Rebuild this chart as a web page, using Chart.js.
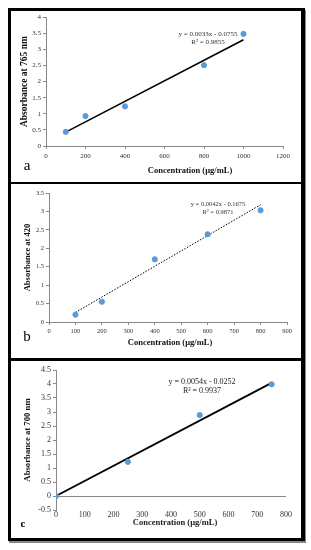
<!DOCTYPE html>
<html>
<head>
<meta charset="utf-8">
<script src="https://cdn.jsdelivr.net/npm/chart.js@4/dist/chart.umd.min.js"></script>
<style>
  body { margin: 0; background: #fff; }
  #page { position: relative; width: 311px; height: 550px; overflow: hidden; }
  #frame { position: absolute; left: 8px; top: 8px; width: 297px; height: 533px; box-sizing: border-box;
           border: 3px solid #000; border-right-width: 4px; box-shadow: 1px 2px 0 #888; }
  .sep { position: absolute; left: 8px; width: 297px; background: #000; }
  canvas { position: absolute; }
</style>
</head>
<body>
<div id="page">
  <div id="frame"></div>
  <div class="sep" style="top:182px;height:2px"></div>
  <div class="sep" style="top:358px;height:3px"></div>
  <canvas id="chartA" style="left:11px;top:11px" width="291" height="171"></canvas>
  <canvas id="chartB" style="left:11px;top:185px" width="291" height="173"></canvas>
  <canvas id="chartC" style="left:11px;top:361px" width="291" height="178"></canvas>
</div>
<script>
// panel a - absorbance at 765 nm
var concA = [100, 200, 400, 800, 1000];
var absA = [0.44, 0.93, 1.23, 2.51, 3.48];
var trendXA = [100, 1000];
var trendYA = [0.43, 3.3];

// panel b - absorbance at 420
var concB = [100, 200, 400, 600, 800];
var absB = [0.2, 0.55, 1.70, 2.38, 3.03];
var trendXB = [100, 800];
var trendYB = [0.26, 3.18];

// panel c - absorbance at 700 nm
var concC = [0, 250, 500, 750];
var absC = [0, 1.22, 2.89, 3.99];
var trendXC = [0, 750];
var trendYC = [0, 4.04];

var SERIF = "'Liberation Serif', 'Times New Roman', serif";
var AXIS = '#888';
var DOT = '#5B9BD5';

function pts(xs, ys) {
  var out = [];
  for (var i = 0; i < xs.length; i++) out.push({x: xs[i], y: ys[i]});
  return out;
}

// plain labels like excel: 4 not 4.0, 1200 not 1,200
function plain(v) {
  return String(Math.round(v * 100) / 100);
}

// draws free text (equation, panel letter, x axis title) on the canvas
var notesPlugin = {
  id: 'notes',
  afterDraw: function(chart, args, opts) {
    var ctx = chart.ctx;
    ctx.save();
    ctx.textAlign = 'center';
    ctx.textBaseline = 'middle';
    opts.items.forEach(function(t) {
      ctx.font = t.font;
      ctx.fillStyle = t.color || '#000';
      ctx.fillText(t.text, t.x, t.y);
    });
    ctx.restore();
  }
};

function makeChart(id, p) {
  var W = p.w, H = p.h;
  var xScale = {
    type: 'linear', min: p.xMin, max: p.xMax,
    ticks: { stepSize: p.xStep, autoSkip: false, maxRotation: 0, padding: p.xTickPad, callback: plain,
             color: '#333', font: { family: SERIF, size: p.tickSize } },
    grid: { display: p.xGrid, drawOnChartArea: false, drawTicks: p.xGrid, tickLength: 3, color: AXIS },
    border: { display: p.xGrid, color: AXIS },
    afterFit: function(s) { s.height = H - p.area.bottom; }
  };
  var yScale = {
    type: 'linear', min: p.yMin, max: p.yMax,
    ticks: { stepSize: 0.5, autoSkip: false, padding: 2, callback: plain,
             color: '#333', font: { family: SERIF, size: p.tickSize } },
    grid: { drawOnChartArea: p.zeroLine, drawTicks: true, tickLength: 3, tickColor: AXIS,
            color: function(c) { return (p.zeroLine && c.tick && c.tick.value === 0) ? AXIS : (p.zeroLine ? 'rgba(0,0,0,0)' : AXIS); } },
    border: { color: AXIS },
    title: { display: true, text: p.yTitle, color: '#111', padding: { top: p.yTitlePad },
             font: { family: SERIF, size: p.yTitleSize, weight: 'bold' } },
    afterFit: function(s) { s.width = p.area.left; }
  };
  return new Chart(document.getElementById(id), {
    type: 'scatter',
    data: {
      datasets: [
        { data: pts(p.xs, p.ys), backgroundColor: DOT, borderColor: DOT, pointRadius: 2.6, showLine: false },
        { data: pts(p.tx, p.ty), showLine: true, pointRadius: 0, borderColor: '#000',
          borderWidth: p.lineWidth, borderDash: p.dash }
      ]
    },
    options: {
      responsive: false, animation: false,
      layout: { padding: { left: 0, top: p.area.top, right: W - p.area.right, bottom: 0 } },
      scales: { x: xScale, y: yScale },
      plugins: { legend: { display: false }, tooltip: { enabled: false }, notes: { items: p.notes } }
    },
    plugins: [notesPlugin]
  });
}

makeChart('chartA', {
  w: 291, h: 171, area: { left: 35, right: 272, top: 5, bottom: 135 },
  xs: concA, ys: absA, tx: trendXA, ty: trendYA, lineWidth: 1.6, dash: [],
  xMin: 0, xMax: 1200, xStep: 200, yMin: 0, yMax: 4, xGrid: true, zeroLine: false, xTickPad: 3,
  tickSize: 7, yTitle: 'Absorbance at 765 nm', yTitleSize: 9.5, yTitlePad: 8,
  notes: [
    { text: 'y = 0.0033x - 0.0755', x: 197, y: 23, font: '7px ' + SERIF, color: '#333' },
    { text: 'R\u00b2 = 0.9855', x: 197, y: 31, font: '7px ' + SERIF, color: '#333' },
    { text: 'Concentration (\u00b5g/mL)', x: 179, y: 160, font: 'bold 8.5px ' + SERIF, color: '#111' },
    { text: 'a', x: 16, y: 155, font: '15px ' + SERIF }
  ]
});

makeChart('chartB', {
  w: 291, h: 173, area: { left: 38, right: 276, top: 8, bottom: 137 },
  xs: concB, ys: absB, tx: trendXB, ty: trendYB, lineWidth: 1, dash: [1.5, 1.5],
  xMin: 0, xMax: 900, xStep: 100, yMin: 0, yMax: 3.5, xGrid: true, zeroLine: false, xTickPad: 2,
  tickSize: 6.5, yTitle: 'Absorbance at 420', yTitleSize: 8.5, yTitlePad: 12,
  notes: [
    { text: 'y = 0.0042x - 0.1675', x: 207, y: 19, font: '6.5px ' + SERIF, color: '#333' },
    { text: 'R\u00b2 = 0.9871', x: 207, y: 27, font: '6.5px ' + SERIF, color: '#333' },
    { text: 'Concentration (\u00b5g/mL)', x: 159, y: 158, font: 'bold 8.5px ' + SERIF, color: '#111' },
    { text: 'b', x: 16, y: 152, font: '15px ' + SERIF }
  ]
});

makeChart('chartC', {
  w: 291, h: 178, area: { left: 45, right: 275, top: 9, bottom: 149 },
  xs: concC, ys: absC, tx: trendXC, ty: trendYC, lineWidth: 1.8, dash: [],
  xMin: 0, xMax: 800, xStep: 100, yMin: -0.5, yMax: 4.5, xGrid: false, zeroLine: true, xTickPad: 0,
  tickSize: 8, yTitle: 'Absorbance at 700 nm', yTitleSize: 8.7, yTitlePad: 12,
  notes: [
    { text: 'y = 0.0054x - 0.0252', x: 191, y: 21, font: '8px ' + SERIF, color: '#222' },
    { text: 'R\u00b2 = 0.9937', x: 191, y: 30, font: '8px ' + SERIF, color: '#222' },
    { text: 'Concentration (\u00b5g/mL)', x: 164, y: 162, font: 'bold 8.5px ' + SERIF, color: '#222' },
    { text: 'c', x: 12, y: 163, font: 'bold 11px ' + SERIF }
  ]
});
</script>
</body>
</html>
